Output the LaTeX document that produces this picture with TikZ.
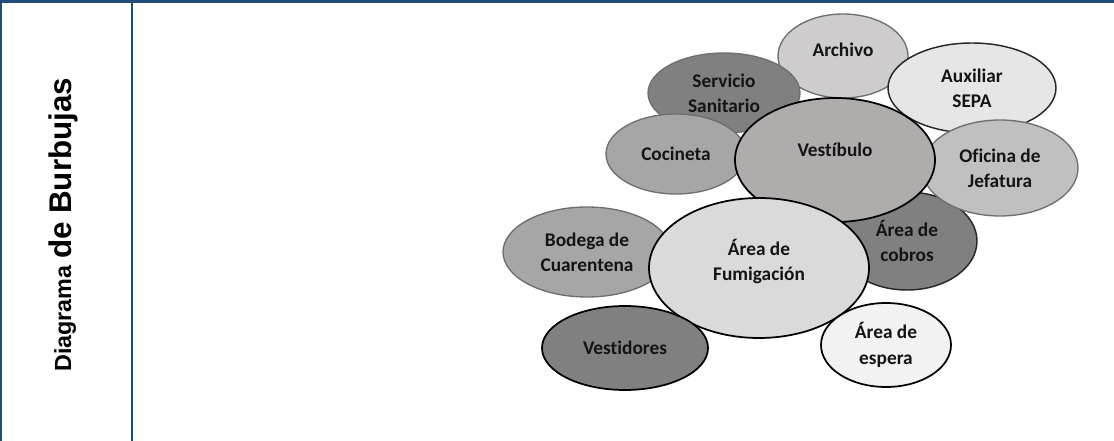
\documentclass[tikz,border=0pt]{standalone}
\usepackage{fontspec}
\setmainfont{Carlito}[Ligatures=NoCommon]
\newfontfamily\titlefont{Liberation Sans}
\usetikzlibrary{shapes.geometric,positioning}
\definecolor{frameclr}{RGB}{31,77,120}
\definecolor{bdrgray}{RGB}{110,110,110}
\definecolor{bdrdark}{RGB}{40,40,40}
\definecolor{fillA}{RGB}{206,204,205}
\definecolor{fillB}{RGB}{230,230,230}
\definecolor{fillC}{RGB}{128,128,128}
\definecolor{fillD}{RGB}{166,166,166}
\definecolor{fillE}{RGB}{192,192,192}
\definecolor{fillF}{RGB}{176,172,172}
\definecolor{fillG}{RGB}{218,218,218}
\definecolor{fillH}{RGB}{242,242,242}
\definecolor{txtclr}{RGB}{20,20,20}
\tikzset{
  bub/.style={ellipse,draw=bdrgray,line width=1pt,inner sep=0pt,
    font=\fontsize{14.5}{19}\selectfont\bfseries,align=center,text=txtclr},
  bubk/.style={bub,draw=black,line width=1.3pt},
  bubd/.style={bub,draw=bdrdark,line width=1.1pt},
  framerule/.style={draw=frameclr,line width=1.6pt},
}
\begin{document}
\begin{tikzpicture}[x=0.75pt,y=-0.75pt]
  \useasboundingbox (0,0) rectangle (1114,441);

  % frame
  \draw[framerule,line width=2.4pt] (0,1.2) -- (1114,1.2);
  \draw[framerule] (1,0) -- (1,441);
  \draw[framerule] (132,0) -- (132,441);
  \node[rotate=90,anchor=base west,inner sep=0pt,text=black] (titel) at (71,372)
    {\titlefont\bfseries\fontsize{17.5}{20}\selectfont Diagrama
     \fontsize{23.5}{27}\selectfont de Burbujas};

  % bubbles, back to front
  \node[bub,fill=fillA,minimum width=97.5pt,minimum height=63pt] (archivo) at (843,56) {Archivo\\[-10pt]};
  \node[bubd,fill=fillB,minimum width=126pt,minimum height=67.5pt] (auxsepa) at (972,88) {Auxiliar\\SEPA};
  \node[bub,fill=fillC,minimum width=114pt,minimum height=60pt] (servsan) at (724,93) {Servicio\\Sanitario};
  \node[bub,fill=fillD,minimum width=105pt,minimum height=60pt] (cocineta) at (676,154) {Cocineta};
  \node[bubd,fill=fillC,minimum width=105pt,minimum height=73.5pt] (cobros) at (907,241) {Área de\\cobros};
  \node[bub,fill=fillE,minimum width=117pt,minimum height=72pt] (oficina) at (1000,168) {Oficina de\\Jefatura};
  \node[bubk,fill=fillF,minimum width=150pt,minimum height=93pt] (vestibulo) at (835,160) {Vestíbulo\\[-4pt]};
  \node[bub,fill=fillD,minimum width=126pt,minimum height=67.5pt] (bodega) at (587,252) {Bodega de\\Cuarentena};
  \node[bubk,fill=fillG,minimum width=165pt,minimum height=105pt] (fumig) at (759,268) {Área de\\Fumigación\\[-7pt]};
  \node[bubk,fill=fillC,minimum width=124.5pt,minimum height=63pt] (vestidores) at (625,348) {Vestidores};
  \node[bubk,fill=fillH,minimum width=97.5pt,minimum height=63pt] (espera) at (886,345) {Área de\\espera};

\end{tikzpicture}
\end{document}
